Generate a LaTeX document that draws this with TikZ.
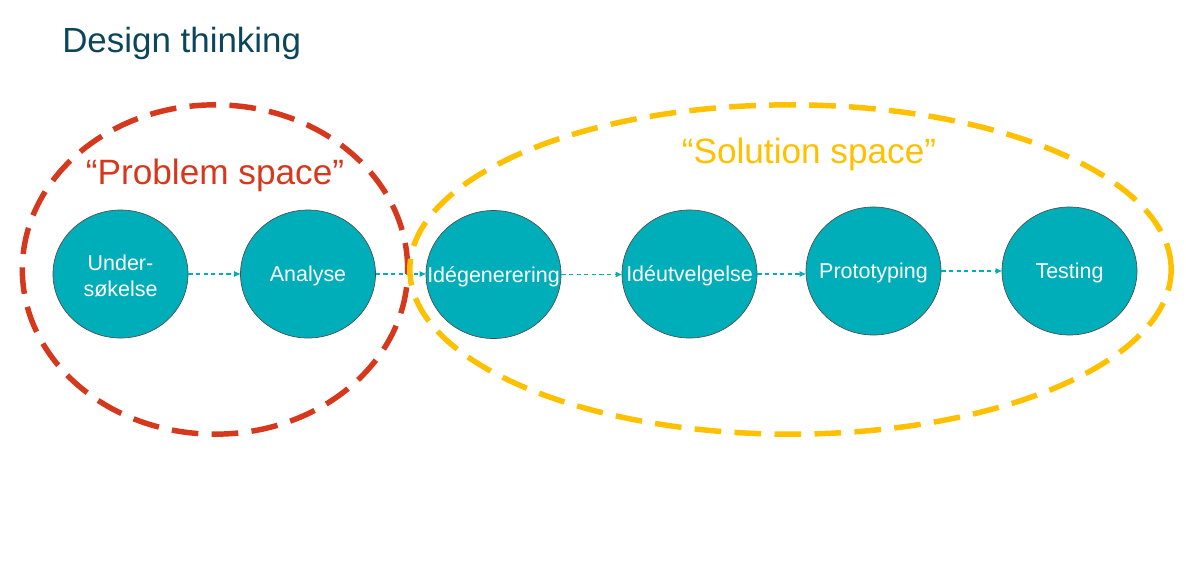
\documentclass[tikz,border=0pt]{standalone}
\usepackage{fontspec}
\setmainfont{Liberation Sans}
\usepackage{xcolor}
\usetikzlibrary{arrows.meta, calc, positioning, shapes.geometric}

\definecolor{phaseteal}{RGB}{0,174,185}
\definecolor{titleblue}{RGB}{12,70,90}
\definecolor{problemred}{RGB}{214,56,30}
\definecolor{solutionyellow}{RGB}{255,192,0}

\begin{document}
\begin{tikzpicture}[
    x=0.75pt, y=-0.75pt,
    phase/.style={ellipse, draw=black!70, line width=0.5pt, fill=phaseteal, inner sep=0pt,
        minimum width=101.25pt, minimum height=96pt},
    phasetext/.style={text=white, align=center, font=\fontsize{16.1}{19.5}\selectfont, inner sep=0pt, yshift=-1.5pt},
    flow/.style={-{Triangle[length=4.5pt, width=4pt]}, dash pattern=on 3.2pt off 2.5pt, line width=0.9pt, draw=phaseteal},
    space/.style={ellipse, draw, line width=4.1pt, dash pattern=on 20pt off 10pt, inner sep=0pt},
    spacelabel/.style={font=\fontsize{26.4}{30}\selectfont}
]
\useasboundingbox (0,0) rectangle (1186,572);

\node[anchor=base west, text=titleblue, font=\fontsize{26.2}{30}\selectfont, inner sep=0pt] (title) at (62,52) {Design thinking};

% phases
\node[phase, label={[phasetext]center:Under-\\søkelse}] (under) at (120.5,274) {};
\node[phase, label={[phasetext]center:Analyse}] (analyse) at (308,274) {};
\node[phase, label={[phasetext]center:Idégenerering}] (idegen) at (493.5,274.5) {};
\node[phase, label={[phasetext]center:Idéutvelgelse}] (ideut) at (689.5,274) {};
\node[phase, label={[phasetext]center:Prototyping}] (proto) at (873.5,271) {};
\node[phase, label={[phasetext]center:Testing}] (testing) at (1069.5,271) {};

\draw[flow] (under.east) -- (under.east -| analyse.west);
\draw[flow] (analyse.east) -- (analyse.east -| idegen.west);
\draw[flow] (idegen.east) -- (idegen.east -| ideut.west);
\draw[flow] (ideut.east) -- (ideut.east -| proto.west);
\draw[flow] (proto.east) -- (proto.east -| testing.west);

% problem and solution spaces
\node[space, draw=problemred, minimum width=289pt, minimum height=247pt] (problem) at (215,269.5) {};
\node[space, draw=solutionyellow, minimum width=571pt, minimum height=247pt] (solution) at (790.5,269.5) {};

\node[spacelabel, text=problemred] (problemlabel) at (215,175) {“Problem space”};
\node[spacelabel, text=solutionyellow] (solutionlabel) at (809,154) {“Solution space”};
\end{tikzpicture}
\end{document}
